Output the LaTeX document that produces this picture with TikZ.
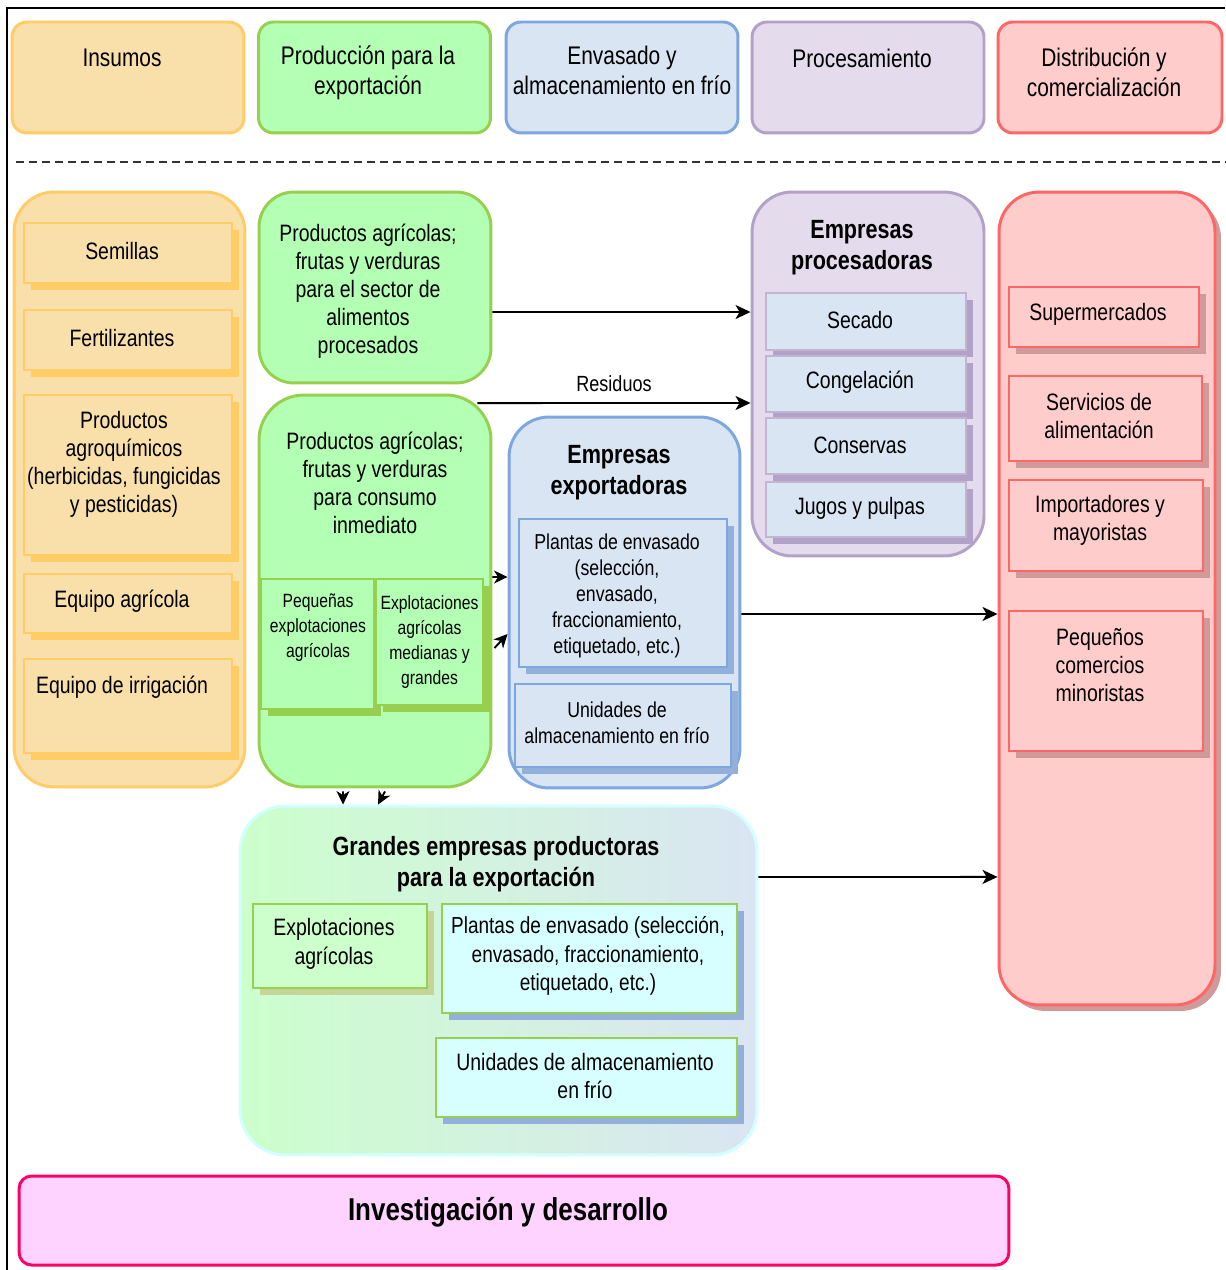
\documentclass[tikz,border=0pt]{standalone}
\usepackage{fontspec}
\setmainfont{Liberation Sans}[FakeStretch=0.82]
\usetikzlibrary{arrows.meta,shadows}

\definecolor{insFill}{HTML}{F9DFA9}
\definecolor{insLine}{HTML}{FFCC66}
\definecolor{prodFill}{HTML}{B3FFB3}
\definecolor{prodLine}{HTML}{97D04F}
\definecolor{envFill}{HTML}{DAE5F3}
\definecolor{envLine}{HTML}{7EA6E0}
\definecolor{envShadow}{HTML}{92B0DA}
\definecolor{procFill}{HTML}{E4DCEC}
\definecolor{procLine}{HTML}{B3A2C7}
\definecolor{distFill}{HTML}{FFCCCC}
\definecolor{distLine}{HTML}{FF6666}
\definecolor{distShadow}{HTML}{D09A9A}
\definecolor{grLine}{HTML}{D2FFFF}
\definecolor{explFill}{HTML}{CCFFCC}
\definecolor{explShadow}{HTML}{C5D59A}
\definecolor{cyanFill}{HTML}{D8FFFF}
\definecolor{invFill}{HTML}{FFD3FF}
\definecolor{invLine}{HTML}{FF0066}

\newcommand{\hdrfont}{\fontsize{14.5pt}{17pt}\selectfont}
\newcommand{\txtfont}{\fontsize{13.5pt}{15.9pt}\selectfont}
\newcommand{\smfont}{\fontsize{12.3pt}{14.8pt}\selectfont}
\newcommand{\tnfont}{\fontsize{10.9pt}{14.2pt}\selectfont}
\newcommand{\ttlfont}{\fontsize{15pt}{17.8pt}\selectfont\bfseries}

\tikzset{
  hdr/.style={draw, rounded corners=0.3cm, line width=1.7pt, minimum width=4.64cm,
    minimum height=2.22cm, inner sep=0pt},
  col/.style={draw, rounded corners=0.8cm, line width=1.7pt, inner sep=0pt},
  item/.style={draw, line width=1.1pt, inner sep=0pt, align=center, font=\txtfont,
    drop shadow={shadow xshift=0.14cm, shadow yshift=-0.14cm, fill=#1, opacity=1}},
  txt/.style={align=center, inner sep=0pt, font=\txtfont},
  arr/.style={line width=1.1pt, -{Stealth[length=0.3cm, width=0.28cm, inset=0.08cm]}},
  sarr/.style={line width=1.1pt, -{Stealth[length=0.27cm, width=0.26cm, inset=0.08cm]}},
}

\begin{document}
\begin{tikzpicture}[x=0.02cm, y=-0.02cm]
\useasboundingbox (0,0) rectangle (1225,1270);
\draw[line width=1.2pt] (7,1270) -- (7,8) -- (1225,8);

% cabeceras
\node[hdr, fill=insFill, draw=insLine] (hIns) at (128,77.5) {};
\node[hdr, fill=prodFill, draw=prodLine] (hProd) at (374.5,77.5) {};
\node[hdr, fill=envFill, draw=envLine] (hEnv) at (622,77.5) {};
\node[hdr, fill=procFill, draw=procLine] (hProc) at (868,77.5) {};
\node[hdr, fill=distFill, draw=distLine, minimum width=4.48cm] (hDist) at (1110,77.5) {};
\node[txt, font=\hdrfont] (tIns) at (122,58) {Insumos};
\node[txt, font=\hdrfont] (tProd) at (368,73) {Producción para la\\exportación};
\node[txt, font=\hdrfont] (tEnv) at (622,70) {Envasado y\\almacenamiento en frío};
\node[txt, font=\hdrfont] (tProc) at (862,58) {Procesamiento};
\node[txt, font=\hdrfont] (tDist) at (1104,72) {Distribución y\\comercialización};

\draw[line width=0.6pt, black!80, dash pattern=on 0.16cm off 0.1cm] (16,162) -- (1225,162);

% insumos
\node[col, fill=insFill, draw=insLine, minimum width=4.62cm, minimum height=11.9cm] (colIns) at (129.5,489.5) {};
\node[item=insLine, fill=insFill, draw=insLine, minimum width=4.16cm, minimum height=1.2cm] (sem) at (128,253) {};
\node[txt] (tSem) at (122,251) {Semillas};
\node[item=insLine, fill=insFill, draw=insLine, minimum width=4.16cm, minimum height=1.2cm] (fert) at (128,340) {};
\node[txt] (tFert) at (122,338) {Fertilizantes};
\node[item=insLine, fill=insFill, draw=insLine, minimum width=4.16cm, minimum height=3.2cm] (agro) at (128,475) {};
\node[txt] (tAgro) at (124,464) {Productos\\agroquímicos\\(herbicidas, fungicidas\\y pesticidas)};
\node[item=insLine, fill=insFill, draw=insLine, minimum width=4.16cm, minimum height=1.18cm] (eqAgr) at (128,603.5) {};
\node[txt] (tAgr) at (122,601) {Equipo agrícola};
\node[item=insLine, fill=insFill, draw=insLine, minimum width=4.16cm, minimum height=1.88cm] (eqIrr) at (128,706) {};
\node[txt] (tIrr) at (122,687) {Equipo de irrigación};

% produccion
\node[col, fill=prodFill, draw=prodLine, rounded corners=0.7cm, minimum width=4.64cm, minimum height=3.82cm] (prodA) at (375,287.5) {};
\node[txt] (tProdA) at (368,291) {Productos agrícolas;\\frutas y verduras\\para el sector de\\alimentos\\procesados};
\node[col, fill=prodFill, draw=prodLine, rounded corners=0.9cm, minimum width=4.64cm, minimum height=7.84cm] (prodB) at (375,591) {};
\node[txt] (tProdB) at (375,483) {Productos agrícolas;\\frutas y verduras\\para consumo\\inmediato};
\node[item=prodLine, fill=prodFill, draw=prodLine, minimum width=2.26cm, minimum height=2.6cm] (peqExp) at (317.5,644) {};
\node[txt, font=\tnfont] (tPeqExp) at (318,628) {Pequeñas\\explotaciones\\agrícolas};
\node[item=prodLine, fill=prodFill, draw=prodLine, font=\tnfont, minimum width=2.14cm, minimum height=2.52cm] (medExp) at (429.5,642) {Explotaciones\\agrícolas\\medianas y\\grandes};

% procesamiento
\node[col, fill=procFill, draw=procLine, minimum width=4.64cm, minimum height=7.28cm] (proc) at (868,374) {};
\node[txt, font=\ttlfont] (tProcT) at (862,248) {Empresas\\procesadoras};
\node[item=procLine, fill=envFill, draw=procLine!80, minimum width=4cm, minimum height=1.14cm] (sec) at (866,321.5) {};
\node[txt] (tSec) at (860,320) {Secado};
\node[item=procLine, fill=envFill, draw=procLine!80, minimum width=4cm, minimum height=1.12cm] (cong) at (866,384) {};
\node[txt] (tCong) at (860,382) {Congelación};
\node[item=procLine, fill=envFill, draw=procLine!80, minimum width=4cm, minimum height=1.12cm] (cons) at (866,446) {};
\node[txt] (tCons) at (860,445) {Conservas};
\node[item=procLine, fill=envFill, draw=procLine!80, minimum width=4cm, minimum height=1.1cm] (jug) at (866,509.5) {};
\node[txt] (tJug) at (860,508) {Jugos y pulpas};

% exportadoras
\node[col, fill=envFill, draw=envLine, minimum width=4.62cm, minimum height=7.42cm] (expo) at (624.5,602.5) {};
\node[txt, font=\ttlfont] (tExpoT) at (619,473) {Empresas\\exportadoras};
\node[item=envShadow, fill=envFill, draw=envLine, font=\smfont, minimum width=4.16cm, minimum height=2.96cm] (plEnv) at (623,593) {};
\node[txt, font=\smfont] (tPlEnv) at (617,596) {Plantas de envasado\\(selección,\\envasado,\\fraccionamiento,\\etiquetado, etc.)};
\node[item=envShadow, fill=envFill, draw=envLine, font=\smfont, minimum width=4.32cm, minimum height=1.66cm] (unAlm) at (623,725.5) {};
\node[txt, font=\smfont] (tUnAlm) at (617,723) {Unidades de\\almacenamiento en frío};

% distribucion
\node[col, fill=distFill, draw=distLine, minimum width=4.32cm, minimum height=16.26cm,
  drop shadow={shadow xshift=0.12cm, shadow yshift=-0.12cm, fill=distShadow, opacity=1}] (dist) at (1107,598.5) {};
\node[item=distShadow, fill=distFill, draw=distLine, minimum width=3.8cm, minimum height=1.2cm] (sup) at (1104,317) {};
\node[txt] (tSup) at (1098,314) {Supermercados};
\node[item=distShadow, fill=distFill, draw=distLine, minimum width=3.86cm, minimum height=1.7cm] (serv) at (1105.5,418.5) {};
\node[txt] (tServ) at (1099,416) {Servicios de\\alimentación};
\node[item=distShadow, fill=distFill, draw=distLine, minimum width=3.88cm, minimum height=1.82cm] (imp) at (1106,525.5) {};
\node[txt] (tImp) at (1100,520) {Importadores y\\mayoristas};
\node[item=distShadow, fill=distFill, draw=distLine, minimum width=3.88cm, minimum height=2.8cm] (min) at (1106,681) {};
\node[txt] (tMin) at (1100,665) {Pequeños\\comercios\\minoristas};

% grandes empresas
\node[col, left color=explFill, right color=envFill, draw=grLine, rounded corners=0.9cm, minimum width=10.34cm, minimum height=6.98cm] (grandes) at (498.5,980.5) {};
\node[txt, font=\ttlfont] (tGrT) at (496,864) {Grandes empresas productoras\\para la exportación};
\node[item=explShadow, fill=explFill, draw=prodLine, minimum width=3.48cm, minimum height=1.68cm] (explG) at (340,946) {};
\node[txt, font=\fontsize{13.5pt}{16.5pt}\selectfont] (tExplG) at (334,944) {Explotaciones\\agrícolas};
\node[item=envShadow, fill=cyanFill, draw=prodLine, minimum width=5.9cm, minimum height=2.18cm] (plG) at (589.5,958.5) {};
\node[txt, font=\fontsize{13.2pt}{16.3pt}\selectfont] (tPlG) at (588,956) {Plantas de envasado (selección,\\envasado, fraccionamiento,\\etiquetado, etc.)};
\node[item=envShadow, fill=cyanFill, draw=prodLine, minimum width=6.02cm, minimum height=1.58cm] (unG) at (586.5,1077.5) {};
\node[txt, font=\fontsize{13.5pt}{16.3pt}\selectfont] (tUnG) at (585,1076) {Unidades de almacenamiento\\en frío};

% investigacion
\node[col, fill=invFill, draw=invLine, rounded corners=0.25cm, minimum width=19.8cm, minimum height=1.78cm] (inv) at (514,1220.5) {};
\node[txt, font=\fontsize{18pt}{21pt}\selectfont\bfseries] (tInv) at (508,1212) {Investigación y desarrollo};

% flechas
\draw[arr] ([yshift=-0.49cm]prodA.east) -- ([yshift=1.24cm]proc.west);
\draw[arr] ([xshift=-0.3cm,yshift=-0.19cm]prodB.north east) -- node[midway, above=0.2cm, inner sep=0pt, font=\fontsize{12.5pt}{15pt}\selectfont] {Residuos} ([yshift=-0.58cm]proc.west);
\draw[sarr] ([yshift=0.28cm]prodB.east) -- ([yshift=0.51cm]expo.west);
\draw[sarr] ([xshift=0.04cm,yshift=-1.14cm]prodB.east) -- ([yshift=-0.63cm]expo.west);
\draw[sarr] ([xshift=-0.64cm,yshift=-0.06cm]prodB.south) -- ([xshift=-3.11cm]grandes.north);
\draw[sarr] ([xshift=0.2cm,yshift=-0.06cm]prodB.south) -- ([xshift=-2.41cm]grandes.north);
\draw[arr] ([yshift=-0.23cm]expo.east) -- ([yshift=-0.31cm]dist.west);
\draw[arr] ([yshift=2.07cm]grandes.east) -- ([yshift=-5.57cm]dist.west);
\end{tikzpicture}
\end{document}
